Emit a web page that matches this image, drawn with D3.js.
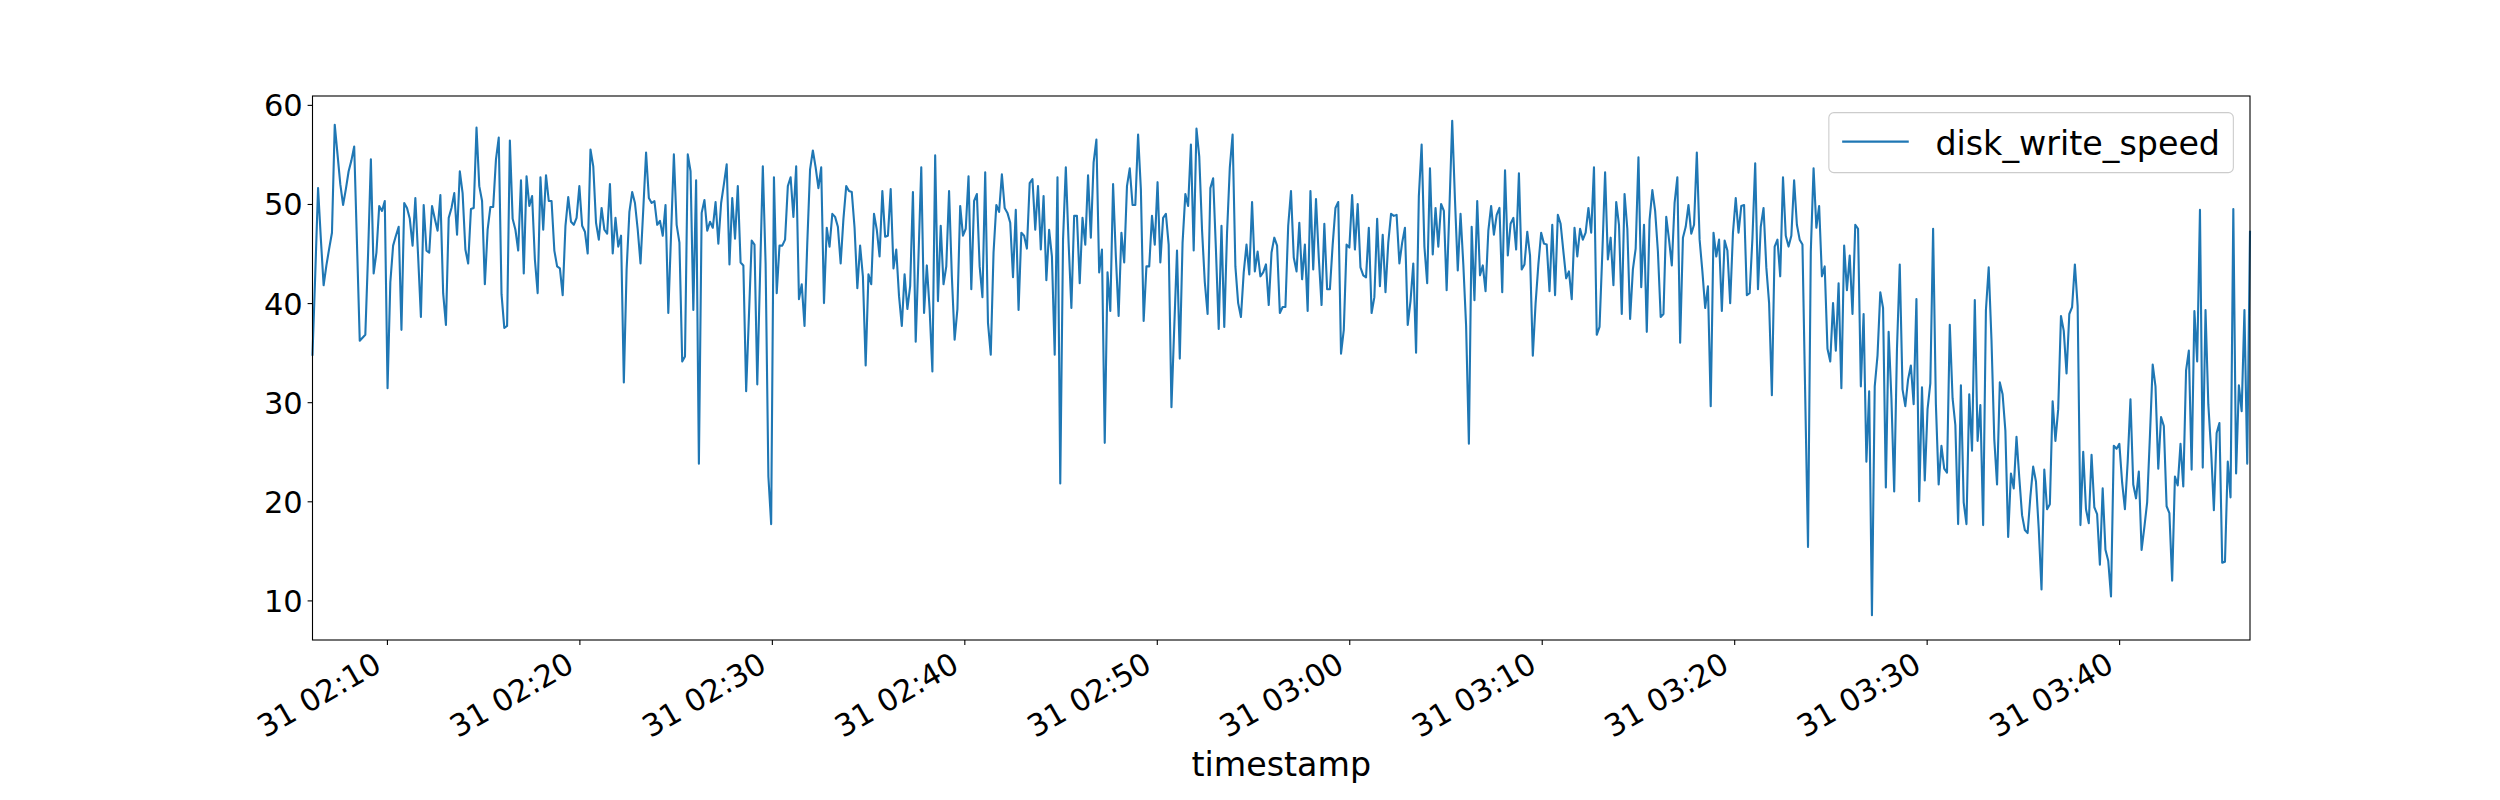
<!DOCTYPE html>
<html>
<head>
<meta charset="utf-8">
<script src="https://cdn.jsdelivr.net/npm/d3@7"></script>
<style>
body { margin:0; background:#ffffff; }
svg { font-family:"DejaVu Sans", sans-serif; }
</style>
</head>
<body>
<svg id="chart"></svg>
<script>
// first and last timestamp of the series (day 31)
var startTime = new Date(2000, 0, 31, 2, 6, 8);
var endTime = new Date(2000, 0, 31, 3, 46, 48);

// disk_write_speed readings
var speedBlock1 = [34.8, 43.0, 51.6, 46.5, 41.8, 43.8, 45.5, 47.1, 58.0, 55.0, 52.0, 49.9, 51.5, 53.3];
var speedBlock2 = [54.4, 55.8, 46.0, 36.2, 36.5, 36.8, 45.0, 54.5, 43.0, 45.1, 49.8, 49.3, 50.3, 31.4, 42.1, 45.8, 46.8, 47.7, 37.3, 50.1, 49.6, 48.5, 45.8, 50.6, 44.7, 38.6, 49.9, 45.3, 45.1, 49.8, 48.5, 47.3, 50.9, 41.0, 37.8, 48.6, 49.6, 51.1, 46.9, 53.3, 51.1, 45.4, 44.0, 49.5, 49.6, 57.7, 51.8, 50.3, 41.9, 47.4, 49.7, 49.7, 54.5, 56.7, 40.9];
var speedBlock3 = [37.5, 37.7, 56.4, 48.5, 47.4, 45.3, 52.4, 43.0, 52.8, 49.8, 50.8, 44.4, 41.0, 52.7, 47.4, 52.9, 50.3, 50.3, 45.3, 43.7, 43.5, 40.8, 47.8, 50.7, 48.2, 47.9, 48.6, 51.8, 47.8, 47.2, 45.0, 55.5, 53.8, 48.1, 46.4, 49.6, 47.4, 47.0, 52.0, 45.0, 48.6, 45.7, 46.8, 32.0, 43.4, 49.2, 51.2, 50.1, 47.4, 44.0, 49.5, 55.2, 50.6, 50.1, 50.3, 47.9];
var speedBlock4 = [48.3, 46.8, 49.9, 39.0, 47.0, 55.0, 47.9, 46.1, 34.1, 34.6, 55.0, 53.3, 39.3, 52.4, 23.8, 49.1, 50.4, 47.3, 48.2, 47.6, 50.2, 46.0, 50.1, 52.0, 54.0, 43.9, 50.6, 46.5, 51.8, 44.1, 43.8, 31.1, 38.7, 46.3, 45.9, 31.8, 42.8, 53.8, 44.0, 22.5, 17.7, 52.7, 41.0, 45.8, 45.8, 46.4, 51.8, 52.7, 48.7, 53.8, 40.4, 41.9, 37.7, 46.1, 53.5, 55.4];
var speedBlock5 = [53.7, 51.6, 53.7, 40.0, 47.6, 45.7, 49.0, 48.7, 47.7, 44.0, 48.5, 51.8, 51.3, 51.2, 47.6, 41.5, 45.8, 42.7, 33.7, 42.9, 41.9, 49.0, 47.4, 44.7, 51.3, 46.7, 46.8, 51.5, 43.5, 45.4, 40.7, 37.7, 42.9, 39.4, 41.7, 51.2, 36.1, 44.7, 53.7, 39.0, 43.8, 39.4, 33.1, 54.9, 40.2, 47.8, 41.9, 43.7, 51.3, 42.7, 36.3, 39.4, 49.8, 46.8, 47.5, 52.8];
var speedBlock6 = [41.4, 50.3, 51.0, 43.7, 40.6, 53.2, 38.0, 34.8, 45.1, 49.9, 49.2, 53.0, 49.6, 49.1, 48.1, 42.6, 49.4, 39.3, 47.1, 46.8, 45.5, 52.1, 52.5, 47.4, 51.8, 45.4, 50.8, 42.3, 47.4, 44.7, 34.8, 52.7, 21.8, 46.4, 53.7, 46.1, 39.5, 48.8, 48.8, 42.0, 48.6, 45.9, 52.9, 46.6, 54.2, 56.5, 43.1, 45.4, 25.9, 43.1, 39.2, 52.0, 44.7, 38.7, 47.1, 44.1];
var speedBlock7 = [51.8, 53.6, 49.9, 49.9, 57.0, 51.5, 38.2, 43.7, 43.7, 48.8, 45.9, 52.2, 44.1, 48.6, 49.0, 45.9, 29.5, 37.5, 45.3, 34.4, 46.1, 51.0, 49.8, 56.0, 45.3, 57.6, 54.8, 47.4, 42.1, 38.9, 51.6, 52.6, 45.4, 37.4, 47.8, 37.6, 47.1, 53.7, 57.0, 43.7, 40.0, 38.6, 43.1, 45.9, 42.9, 50.2, 43.2, 45.2, 42.7, 43.1, 43.9, 39.8, 45.1, 46.6, 45.8, 39.0];
var speedBlock8 = [39.6, 39.6, 47.8, 51.3, 44.6, 43.2, 48.1, 42.4, 45.9, 39.2, 51.3, 43.4, 50.5, 44.6, 39.8, 48.0, 41.4, 41.4, 45.9, 49.6, 50.2, 34.9, 37.3, 45.9, 45.6, 50.9, 45.4, 50.0, 43.6, 42.8, 42.6, 47.6, 39.0, 40.6, 48.5, 41.7, 46.9, 41.1, 46.1, 49.0, 48.8, 48.9, 44.0, 46.1, 47.6, 37.8, 40.2, 44.0, 35.0, 50.8];
var speedBlock9 = [56.0, 45.7, 42.0, 53.6, 44.9, 49.6, 45.7, 50.0, 49.3, 41.3, 49.6, 58.4, 50.4, 43.3, 49.0, 43.9, 37.7, 25.8, 47.7, 40.3, 50.3, 42.8, 43.8, 41.2, 47.3, 49.8, 46.9, 48.9, 49.6, 41.1, 53.4, 44.8, 48.0, 48.6, 45.4, 53.1, 43.4, 43.9, 47.2, 44.8, 34.7, 40.0, 43.9, 47.1, 46.0, 45.9, 41.2, 47.9, 40.8, 48.9, 48.0, 45.2, 42.5, 43.2, 40.4, 47.6, 44.7, 47.5, 46.4, 47.1, 49.6, 47.1, 53.7, 36.8, 37.6, 45.0, 53.2, 44.4, 46.6, 41.8, 50.2, 47.9, 38.9, 51.0];
var speedBlock10 = [47.5, 38.4, 43.4, 45.5, 54.7, 41.6, 47.9, 37.1, 48.4, 51.4, 49.3, 45.2, 38.6, 38.9, 48.7, 46.4, 43.8, 50.1, 52.7, 36.0, 46.6, 47.7, 49.9, 47.0, 47.9, 55.2, 46.4, 43.2, 39.5, 41.7, 29.6, 47.1, 44.7, 46.4, 39.2, 46.3, 45.3, 40.0, 47.1, 50.6, 47.1, 49.8, 49.9, 40.8, 41.0, 46.5, 54.1, 41.4, 47.7, 49.6, 43.6, 40.0, 30.7, 45.7, 46.4, 42.7, 52.7, 46.8, 45.7, 46.8, 52.4, 47.9, 46.4, 45.9, 30.5, 15.4, 45.2, 53.6, 47.6, 49.8, 42.7, 43.7, 35.4, 34.1, 40.0, 35.2];
var speedBlock11 = [42.0, 31.4, 45.8, 41.3, 44.8, 38.9, 47.9, 47.5, 31.6, 38.9, 24.0, 31.1, 8.5, 31.6, 34.7, 41.1, 39.5, 21.4, 37.1, 30.4, 21.0, 35.4, 43.9, 31.3, 29.6, 32.3, 33.7, 29.8, 40.4, 20.0, 31.5, 22.1, 29.3, 31.9, 47.5, 29.8, 21.7, 25.6, 23.3, 22.9, 37.8, 30.4, 27.7, 17.7, 31.7, 19.9, 17.7, 30.8, 25.1, 40.3, 26.1, 29.7, 17.6, 39.3, 43.6, 36.3, 26.3, 21.7, 32.0, 30.8, 27.1, 16.4, 22.8, 21.3, 26.5, 22.4, 18.6, 17.1, 16.8, 20.5, 23.5, 22.0, 17.2, 11.1, 23.2];
var speedBlock12 = [19.2, 19.7, 30.1, 26.1, 29.3, 38.7, 37.2, 32.9, 38.9, 39.6, 43.9, 39.7, 17.6, 25.0, 19.2, 17.8, 24.7, 19.4, 18.7, 13.6, 21.3, 15.1, 14.0, 10.4, 25.6, 25.3, 25.8, 21.9, 19.2, 24.0, 30.3, 21.7, 20.3, 23.0, 15.1, 17.4, 19.9, 26.6, 33.8, 31.6, 23.3, 28.5, 27.6, 19.5, 18.8, 12.0, 22.5, 21.6, 25.8, 21.5, 33.2, 35.2, 23.2, 39.2, 34.1, 49.4, 23.4, 39.3, 29.8, 25.2, 19.1, 26.9, 27.9, 13.8, 13.9, 24.0, 20.4, 49.5, 22.8, 31.7, 29.1, 39.3, 23.8, 47.2];

// tick labels
var xTickTimes = ["02:10", "02:20", "02:30", "02:40", "02:50", "03:00", "03:10", "03:20", "03:30", "03:40"];
var yTicks = [10, 20, 30, 40, 50, 60];
var seriesName = "disk_write_speed";
var xTitle = "timestamp";

/* put the blocks together and give every reading its timestamp */
var buildSeries = function()
{
    var speeds = [].concat(speedBlock1, speedBlock2, speedBlock3, speedBlock4,
        speedBlock5, speedBlock6, speedBlock7, speedBlock8,
        speedBlock9, speedBlock10, speedBlock11, speedBlock12);
    var step = (endTime - startTime) / (speeds.length - 1);
    return speeds.map(function(v, i)
    {
        return {time: new Date(startTime.getTime() + i * step), speed: v};
    });
}

var drawChart = function(target, series)
{
    var screen = {width:2500, height:800};
    var margins = {top:96, bottom:160, left:312.5, right:250};
    var graph = {
        width: screen.width - margins.left - margins.right,
        height: screen.height - margins.top - margins.bottom
    };
    var tickFont = 30.5;
    var bigFont = 33.3;

    var svg = d3.select(target)
        .attr("width", screen.width)
        .attr("height", screen.height);

    var xScale = d3.scaleTime()
        .domain([startTime, endTime])
        .range([0, graph.width]);

    // matplotlib style 5% padding around the data
    var ext = d3.extent(series, function(d) { return d.speed; });
    var pad = (ext[1] - ext[0]) * 0.05;
    var yScale = d3.scaleLinear()
        .domain([ext[0] - pad, ext[1] + pad])
        .range([graph.height, 0]);

    var g = svg.append("g")
        .attr("transform", "translate(" + margins.left + "," + margins.top + ")");

    // the line
    var line = d3.line()
        .x(function(d) { return xScale(d.time); })
        .y(function(d) { return yScale(d.speed); });

    g.append("path")
        .datum(series)
        .attr("fill", "none")
        .attr("stroke", "#1f77b4")
        .attr("stroke-width", 2.1)
        .attr("stroke-linejoin", "round")
        .attr("stroke-linecap", "square")
        .attr("d", line);

    // x axis with rotated date labels
    var tickDates = xTickTimes.map(function(s)
    {
        var p = s.split(":");
        return new Date(2000, 0, 31, +p[0], +p[1], 0);
    });
    var xAxis = d3.axisBottom(xScale)
        .tickValues(tickDates)
        .tickFormat(d3.timeFormat("%d %H:%M"))
        .tickSize(4.9)
        .tickSizeOuter(0);

    var xg = g.append("g")
        .attr("transform", "translate(0," + graph.height + ")")
        .call(xAxis);
    xg.select(".domain").remove();
    xg.selectAll("line").attr("stroke", "#000").attr("stroke-width", 1.1);
    xg.selectAll("text")
        .attr("x", 0).attr("y", 0).attr("dy", null)
        .attr("fill", "#000")
        .attr("font-size", tickFont)
        .attr("font-family", "DejaVu Sans")
        .attr("text-anchor", "end")
        .attr("transform", "translate(-4,30) rotate(-30)");

    // y axis
    var yAxis = d3.axisLeft(yScale)
        .tickValues(yTicks)
        .tickSize(4.9)
        .tickPadding(4.9)
        .tickSizeOuter(0);
    var yg = g.append("g").call(yAxis);
    yg.select(".domain").remove();
    yg.selectAll("line").attr("stroke", "#000").attr("stroke-width", 1.1);
    yg.selectAll("text")
        .attr("fill", "#000")
        .attr("font-size", tickFont)
        .attr("font-family", "DejaVu Sans")
        .attr("dy", "0.36em");

    // the four spines
    g.append("rect")
        .attr("width", graph.width)
        .attr("height", graph.height)
        .attr("fill", "none")
        .attr("stroke", "#000")
        .attr("stroke-width", 1.1);

    // x title
    svg.append("text")
        .attr("x", margins.left + graph.width / 2)
        .attr("y", 776)
        .attr("text-anchor", "middle")
        .attr("font-size", bigFont)
        .attr("fill", "#000")
        .text(xTitle);

    drawLegend(g, graph, bigFont);
}

/* legend box in the upper right corner */
var drawLegend = function(g, graph, fs)
{
    var gap = 0.5 * fs;
    var border = 0.4 * fs;
    var handle = 2.0 * fs;
    var textPad = 0.8 * fs;

    var leg = g.append("g");
    var box = leg.append("rect")
        .attr("rx", 5).attr("ry", 5)
        .attr("fill", "#ffffff")
        .attr("fill-opacity", 0.8)
        .attr("stroke", "#cccccc")
        .attr("stroke-width", 1.1);
    var label = leg.append("text")
        .attr("font-size", fs)
        .attr("fill", "#000")
        .text(seriesName);
    var textW = label.node().getComputedTextLength();

    var boxW = border * 2 + handle + textPad + textW;
    var boxH = border * 2 + fs * 1.0;
    var x0 = graph.width - gap - boxW;
    var y0 = gap;

    box.attr("x", x0).attr("y", y0).attr("width", boxW).attr("height", boxH);
    leg.append("line")
        .attr("x1", x0 + border).attr("x2", x0 + border + handle)
        .attr("y1", y0 + boxH / 2 - 1).attr("y2", y0 + boxH / 2 - 1)
        .attr("stroke", "#1f77b4")
        .attr("stroke-width", 2.1);
    label.attr("x", x0 + border + handle + textPad)
        .attr("y", y0 + boxH / 2 + fs * 0.36);
}

drawChart("#chart", buildSeries());
</script>
</body>
</html>
